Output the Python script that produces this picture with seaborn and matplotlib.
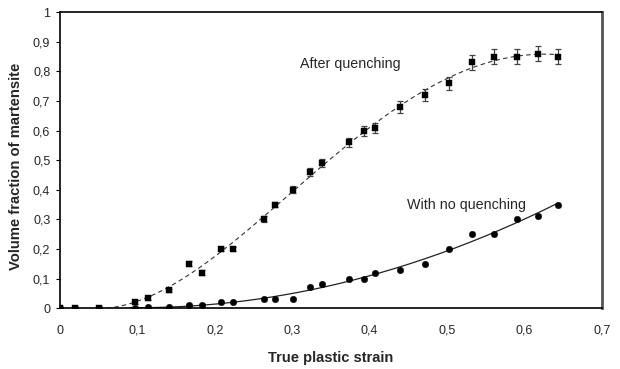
import numpy as np
import pandas as pd
import matplotlib
matplotlib.use("Agg")
import matplotlib.pyplot as plt
import seaborn as sns
from matplotlib.ticker import FuncFormatter

# True plastic strain at each measurement
strain = [0.0, 0.02, 0.05, 0.097, 0.114, 0.141, 0.166, 0.183, 0.208, 0.224,
          0.264, 0.278, 0.301, 0.323, 0.338, 0.373, 0.393, 0.407, 0.439,
          0.471, 0.502, 0.532, 0.560, 0.590, 0.617, 0.643]

# Martensite fraction after quenching, with error
after_q = [0.0, 0.0, 0.0, 0.02, 0.035, 0.06, 0.15, 0.12, 0.20, 0.20,
           0.30, 0.35, 0.40, 0.46, 0.49, 0.56, 0.60, 0.61, 0.68,
           0.72, 0.76, 0.83, 0.85, 0.85, 0.86, 0.85]
after_err = [0.0, 0.0, 0.0, 0.006, 0.006, 0.006, 0.008, 0.008, 0.008, 0.008,
             0.01, 0.01, 0.012, 0.013, 0.013, 0.015, 0.017, 0.017, 0.02,
             0.02, 0.022, 0.025, 0.025, 0.025, 0.025, 0.025]

# Martensite fraction without quenching
no_q = [0.0, 0.0, 0.0, 0.0, 0.003, 0.005, 0.01, 0.01, 0.02, 0.02,
        0.03, 0.03, 0.03, 0.07, 0.08, 0.10, 0.10, 0.12, 0.13,
        0.15, 0.20, 0.25, 0.25, 0.30, 0.31, 0.35]

x_ticks = [0, 0.1, 0.2, 0.3, 0.4, 0.5, 0.6, 0.7]
y_ticks = [0, 0.1, 0.2, 0.3, 0.4, 0.5, 0.6, 0.7, 0.8, 0.9, 1.0]

sns.set_style("white")
plt.rcParams["font.family"] = ["Liberation Sans", "DejaVu Sans"]

df = pd.DataFrame({"strain": strain, "after": after_q, "err": after_err, "none": no_q})

fig = plt.figure(figsize=(6.2, 3.69), dpi=100)
ax = fig.add_axes([0.0968, 0.165, 0.874, 0.802])

# Trend lines fitted to the measured points
xs = np.array(strain)
m1 = xs >= 0.05
c1 = np.polyfit(xs[m1], np.array(after_q)[m1], 4)
xf1 = np.linspace(0.05, 0.643, 200)
yf1 = np.clip(np.polyval(c1, xf1), 0, None)
m2 = xs >= 0.09
c2 = np.polyfit(xs[m2], np.array(no_q)[m2], 2)
xf2 = np.linspace(0.09, 0.643, 200)
yf2 = np.clip(np.polyval(c2, xf2), 0, None)

sns.lineplot(x=xf1, y=yf1, ax=ax, color="#333333", lw=0.8, linestyle=(0, (4, 3)))
sns.lineplot(x=xf2, y=yf2, ax=ax, color="#222222", lw=0.9)

ax.errorbar(df["strain"], df["after"], yerr=df["err"], fmt="none",
            ecolor="#444444", elinewidth=0.9, capsize=2.5, capthick=0.9, zorder=3)
sns.scatterplot(data=df, x="strain", y="after", ax=ax, marker="s", s=18,
                color="black", edgecolor="black", linewidth=0.3, zorder=4)
sns.scatterplot(data=df, x="strain", y="none", ax=ax, marker="o", s=22,
                color="black", edgecolor="black", linewidth=0.3, zorder=4)

ax.set_xlim(0, 0.7)
ax.set_ylim(0, 1.0)
ax.set_xticks(x_ticks)
ax.set_yticks(y_ticks)
fmt = FuncFormatter(lambda v, p: ("%g" % round(v, 2)).replace(".", ","))
ax.xaxis.set_major_formatter(fmt)
ax.yaxis.set_major_formatter(fmt)
ax.tick_params(axis="y", which="major", direction="out", length=3, width=0.8,
               labelsize=9, pad=4, left=True, color="black")
ax.tick_params(axis="x", which="major", length=0, labelsize=9, pad=12)

for side in ["left", "bottom", "top"]:
    ax.spines[side].set_color("black")
    ax.spines[side].set_linewidth(1.2)
ax.spines["right"].set_color("#555555")
ax.spines["right"].set_linewidth(2)

ax.set_xlabel("True plastic strain", fontsize=10.5, fontweight="bold", labelpad=10)
ax.set_ylabel("Volume fraction of martensite", fontsize=10.6, fontweight="bold")
ax.yaxis.set_label_coords(-0.068, 0.48)

ax.text(0.31, 0.824, "After quenching", fontsize=10.3, ha="left", va="center")
ax.text(0.448, 0.348, "With no quenching", fontsize=10.3, ha="left", va="center")

fig.savefig("out.png", dpi=100)
